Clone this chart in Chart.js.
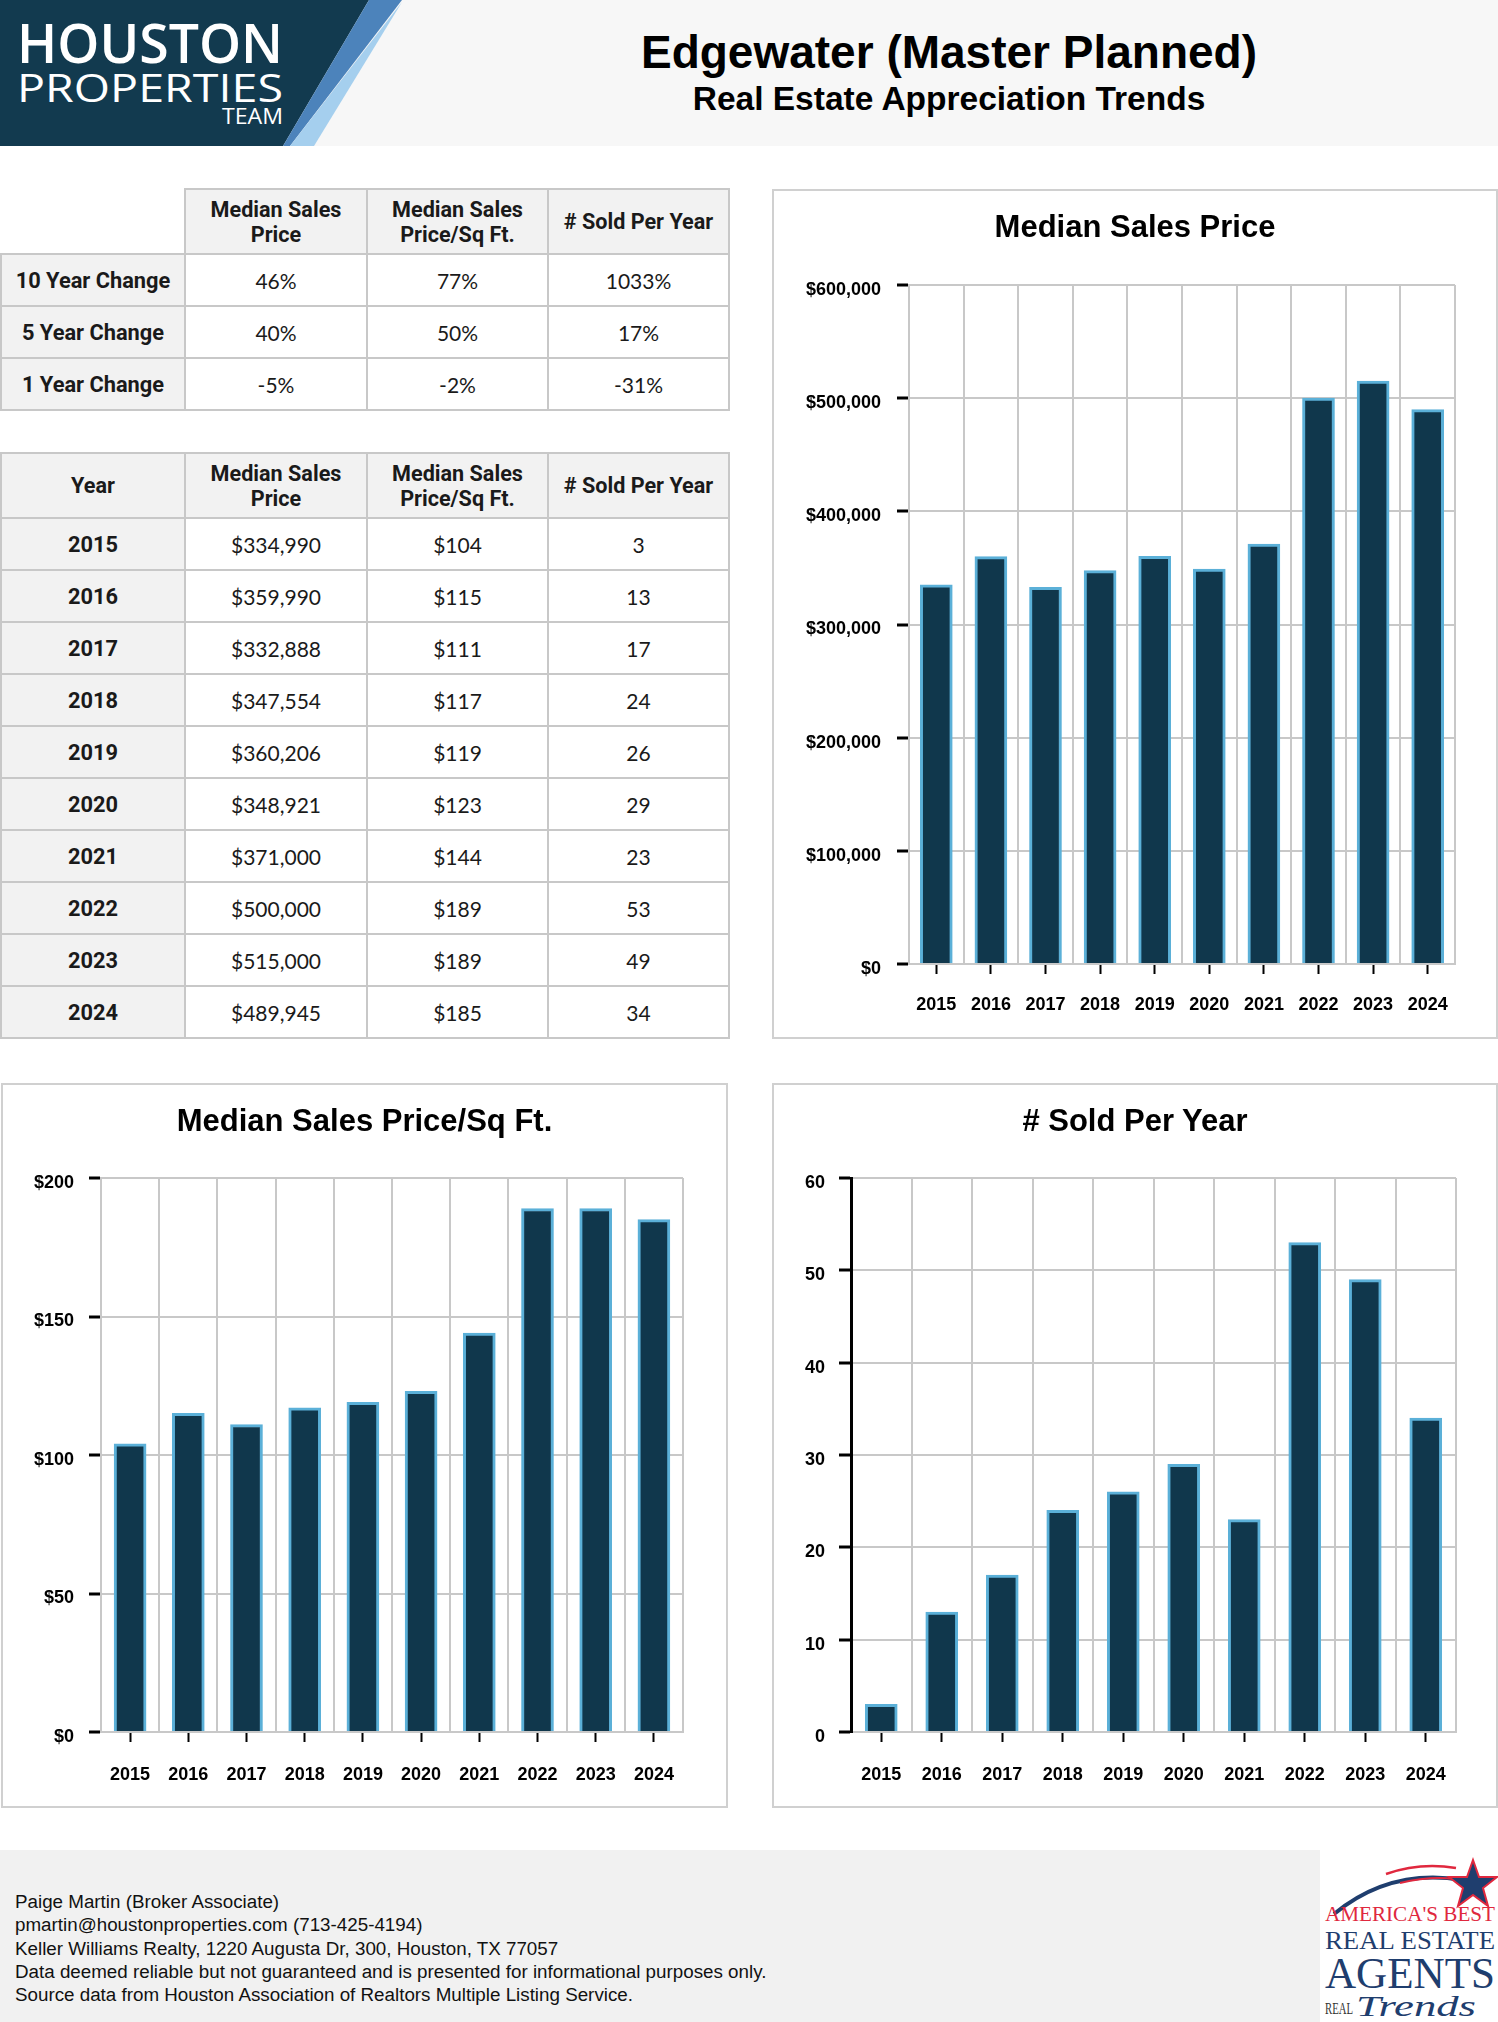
<!DOCTYPE html>
<html>
<head>
<meta charset="utf-8">
<script src="https://cdn.jsdelivr.net/npm/chart.js@4.4.1/dist/chart.umd.min.js"></script>
<style>
html,body{margin:0;padding:0;}
body{width:1498px;height:2022px;position:relative;background:#fff;overflow:hidden;font-family:'Liberation Sans',Arial,Helvetica,sans-serif;color:#000;}
.abs{position:absolute;}
#hdr{left:0;top:0;width:1498px;height:146px;background:#f7f7f7;}
#title{left:449px;width:1000px;text-align:center;top:29px;font-size:46px;line-height:46px;font-weight:bold;white-space:nowrap;}
#subtitle{left:449px;width:1000px;text-align:center;top:82px;font-size:33.5px;line-height:33.5px;font-weight:bold;white-space:nowrap;}
table{position:absolute;border-collapse:collapse;table-layout:fixed;width:728px;}
th,td{border:2px solid #c8c8c8;text-align:center;padding:0;color:#1a1a1a;}
th{background:#f2f2f2;font-family:Roboto,'Liberation Sans',sans-serif;font-weight:700;font-size:21.6px;line-height:25px;}
td{font-family:Lato,'Open Sans',sans-serif;font-size:21px;background:#fff;}
td.lab{background:#f2f2f2;font-family:Roboto,'Liberation Sans',sans-serif;font-weight:700;font-size:21.8px;}
th.empty{border:none;background:#fff;}
tr.hd{height:65px;}
tr.rw{height:52px;}
.box{position:absolute;border:2px solid #d0d0d0;box-sizing:border-box;background:#fff;}
.box canvas{position:absolute;left:0;top:0;}
.ctitle{position:absolute;left:0;top:18px;width:100%;text-align:center;font-family:'Liberation Sans',Arial,sans-serif;font-weight:bold;font-size:31px;line-height:36px;color:#000;white-space:nowrap;z-index:2;}
#footer{left:0;top:1850px;width:1498px;height:172px;background:#f1f1f1;}
#ftext{left:15px;top:1890px;font-size:18.8px;line-height:23.3px;color:#111;white-space:nowrap;}
</style>
</head>
<body>
<div id="hdr" class="abs"></div>
<svg class="abs" style="left:0;top:0" width="420" height="146">
  <defs>
    <linearGradient id="lg" x1="0" x2="1" y1="0" y2="0">
      <stop offset="0" stop-color="#ffffff" stop-opacity="0.15"/>
      <stop offset="0.35" stop-color="#ffffff" stop-opacity="0.8"/>
      <stop offset="1" stop-color="#ffffff" stop-opacity="1"/>
    </linearGradient>
  </defs>
  <polygon points="0,0 369,0 283,146 0,146" fill="#123a4f"/>
  <polygon points="369,0 402,0 290,146 283,146" fill="#4c83bb"/>
  <polygon points="402,2 314,146 290,146" fill="#a5cfee"/>
  <text x="17" y="63" font-family="'Open Sans',Lato,sans-serif" font-weight="600" font-size="55" fill="#fff" textLength="266" lengthAdjust="spacingAndGlyphs">HOUSTON</text>
  <text x="17" y="102" font-family="'Open Sans',Lato,sans-serif" font-weight="500" font-size="38" fill="#fff" textLength="266" lengthAdjust="spacingAndGlyphs">PROPERTIES</text>
  <line x1="22" y1="118" x2="215" y2="118" stroke="url(#lg)" stroke-width="2.5"/>
  <text x="222" y="124" font-family="'Open Sans',Lato,sans-serif" font-weight="500" font-size="22" fill="#fff" textLength="61" lengthAdjust="spacingAndGlyphs">TEAM</text>
</svg>
<div id="title" class="abs">Edgewater (Master Planned)</div>
<div id="subtitle" class="abs">Real Estate Appreciation Trends</div>

<table id="tbl1" style="left:0;top:188px;"></table>
<table id="tbl2" style="left:0;top:452px;"></table>

<div class="box" style="left:772px;top:189px;width:726px;height:850px;"><canvas id="c1" width="722" height="846" style="width:722px;height:846px"></canvas><div class="ctitle" id="t1"></div></div>
<div class="box" style="left:1px;top:1083px;width:727px;height:725px;"><canvas id="c2" width="723" height="721" style="width:723px;height:721px"></canvas><div class="ctitle" id="t2"></div></div>
<div class="box" style="left:772px;top:1083px;width:726px;height:725px;"><canvas id="c3" width="722" height="721" style="width:722px;height:721px"></canvas><div class="ctitle" id="t3"></div></div>

<div id="footer" class="abs"></div>
<div id="ftext" class="abs">Paige Martin (Broker Associate)<br>pmartin@houstonproperties.com (713-425-4194)<br>Keller Williams Realty, 1220 Augusta Dr, 300, Houston, TX 77057<br>Data deemed reliable but not guaranteed and is presented for informational purposes only.<br>Source data from Houston Association of Realtors Multiple Listing Service.</div>
<svg class="abs" style="left:1320px;top:1850px" width="178" height="172">
  <rect x="0" y="0" width="178" height="172" fill="#fff"/>
  <path d="M 14 64 Q 70 18 142 30" stroke="#1f3e6e" stroke-width="4" fill="none"/>
  <path d="M 66 24 Q 100 12 136 18" stroke="#e0283e" stroke-width="2.5" fill="none"/>
  <path d="M 80 33 Q 110 26 134 29" stroke="#e0283e" stroke-width="2" fill="none"/>
  <polygon points="153,10 159,27 177,27 163,38 168,56 153,45 138,56 143,38 129,27 147,27" fill="#1f3e6e" stroke="#e0283e" stroke-width="2"/>
  <text x="5" y="71" font-family="'Liberation Serif',serif" font-size="21" fill="#e0283e" textLength="170" lengthAdjust="spacingAndGlyphs">AMERICA'S BEST</text>
  <text x="5" y="99" font-family="'Liberation Serif',serif" font-size="26" fill="#1f3e6e" textLength="170" lengthAdjust="spacingAndGlyphs">REAL ESTATE</text>
  <text x="5" y="138" font-family="'Liberation Serif',serif" font-size="44" fill="#1f3e6e" textLength="170" lengthAdjust="spacingAndGlyphs">AGENTS</text>
  <text x="5" y="164" font-family="'Liberation Serif',serif" font-size="16" fill="#333" textLength="28" lengthAdjust="spacingAndGlyphs">REAL</text>
  <text x="36" y="166" font-family="'Liberation Serif',serif" font-style="italic" font-size="30" fill="#1f3e6e" textLength="120" lengthAdjust="spacingAndGlyphs">Trends</text>
</svg>

<script>
// ---------- DATA ----------
const years = ['2015','2016','2017','2018','2019','2020','2021','2022','2023','2024'];
const medianPrice = [334990, 359990, 332888, 347554, 360206, 348921, 371000, 500000, 515000, 489945];
const pricePerSqft = [104, 115, 111, 117, 119, 123, 144, 189, 189, 185];
const soldPerYear = [3, 13, 17, 24, 26, 29, 23, 53, 49, 34];

const changeLabels = ['10 Year Change', '5 Year Change', '1 Year Change'];
const changePrice = ['46%', '40%', '-5%'];
const changeSqft = ['77%', '50%', '-2%'];
const changeSold = ['1033%', '17%', '-31%'];

const columnHeaders = ['Median Sales<br>Price', 'Median Sales<br>Price/Sq Ft.', '# Sold Per Year'];
const chartTitles = ['Median Sales Price', 'Median Sales Price/Sq Ft.', '# Sold Per Year'];

const priceAxisTicks = [0, 100000, 200000, 300000, 400000, 500000, 600000];
const sqftAxisTicks = [0, 50, 100, 150, 200];
const soldAxisTicks = [0, 10, 20, 30, 40, 50, 60];

// ---------- TABLES ----------
const money = v => '$' + v.toLocaleString('en-US');
function buildTable(id, firstHeader, rowLabels, cols) {
  const t = document.getElementById(id);
  let html = '<colgroup><col style="width:184px"><col style="width:182px"><col style="width:181px"><col style="width:181px"></colgroup>';
  html += '<tr class="hd">' + (firstHeader === null ? '<th class="empty"></th>' : '<th>' + firstHeader + '</th>');
  columnHeaders.forEach(h => { html += '<th>' + h + '</th>'; });
  html += '</tr>';
  rowLabels.forEach((lab, i) => {
    html += '<tr class="rw"><td class="lab">' + lab + '</td>';
    cols.forEach(c => { html += '<td>' + c[i] + '</td>'; });
    html += '</tr>';
  });
  t.innerHTML = html;
}
buildTable('tbl1', null, changeLabels, [changePrice, changeSqft, changeSold]);
buildTable('tbl2', 'Year', years, [medianPrice.map(money), pricePerSqft.map(money), soldPerYear]);

['t1','t2','t3'].forEach((id, i) => { document.getElementById(id).textContent = chartTitles[i]; });

// ---------- CHARTS ----------
const FONT = "'Liberation Sans', Arial, Helvetica, sans-serif";
Chart.defaults.font.family = FONT;
const GRID = '#c8c8c8';
const BAR = '#10374c';
const BAR_EDGE = '#5bb0d8';

function barChart(id, values, o) {
  return new Chart(document.getElementById(id), {
    type: 'bar',
    data: {
      labels: years,
      datasets: [{
        data: values, backgroundColor: BAR, borderColor: BAR_EDGE,
        borderWidth: 3, barThickness: 32, xAxisID: 'x', yAxisID: 'y'
      }]
    },
    options: {
      responsive: false, maintainAspectRatio: false, animation: false, events: [],
      layout: { padding: { left: 10, right: o.right, top: o.top, bottom: o.bottom } },
      plugins: { legend: { display: false }, tooltip: { enabled: false }, title: { display: false } },
      scales: {
        x: {
          type: 'category', offset: true,
          grid: { offset: true, color: GRID, lineWidth: 2, drawTicks: false },
          border: { color: GRID, width: 2 },
          ticks: { display: false }
        },
        x2: {
          type: 'category', labels: years, position: 'bottom', offset: true,
          grid: { offset: false, drawOnChartArea: false, drawTicks: true, tickLength: 10, tickColor: '#000', tickWidth: 2 },
          border: { display: false },
          ticks: { padding: o.xPad, color: '#000', autoSkip: false, maxRotation: 0, font: { family: FONT, size: 18, weight: 'bold' } },
          afterFit(s) { s.height = 63; }
        },
        y: {
          min: o.ticks[0], max: o.ticks[o.ticks.length - 1], z: 1,
          afterBuildTicks(s) { s.ticks = o.ticks.map(v => ({ value: v })); },
          grid: { color: GRID, lineWidth: 2, tickLength: 12, tickColor: '#000', tickWidth: 3 },
          border: { color: o.axisColor, width: o.axisWidth },
          ticks: { padding: o.tickPad, labelOffset: 5, color: '#000', font: { family: FONT, size: 18, weight: 'bold' }, callback: o.fmt },
          afterFit(s) { s.width = o.yWidth; }
        }
      }
    }
  });
}

barChart('c1', medianPrice, {
  ticks: priceAxisTicks, fmt: v => money(v),
  top: 94, right: 41, bottom: 10, xPad: 20, yWidth: 125, tickPad: 16, axisColor: GRID, axisWidth: 2
});
barChart('c2', pricePerSqft, {
  ticks: sqftAxisTicks, fmt: v => '$' + v,
  top: 93, right: 43, bottom: 11, xPad: 22, yWidth: 88, tickPad: 15, axisColor: GRID, axisWidth: 2
});
barChart('c3', soldPerYear, {
  ticks: soldAxisTicks, fmt: v => String(v),
  top: 93, right: 40, bottom: 11, xPad: 22, yWidth: 67, tickPad: 14, axisColor: '#000', axisWidth: 3
});
</script>
</body>
</html>
